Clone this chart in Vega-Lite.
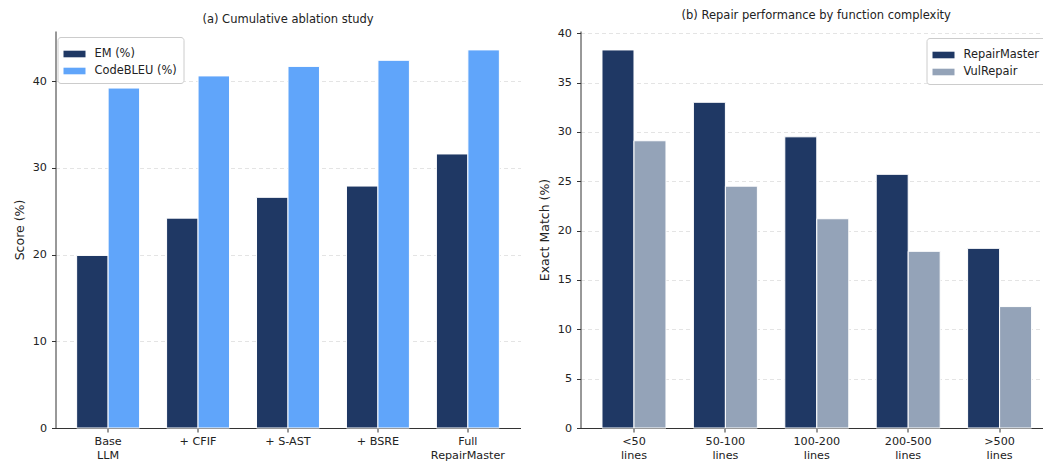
{
  "$schema": "https://vega.github.io/schema/vega-lite/v6.json",
  "background": "white",
  "padding": {"left": 12.5, "top": 9, "right": 0, "bottom": 0},
  "spacing": 17,
  "config": {
    "font": "DejaVu Sans",
    "view": {"stroke": null},
    "axis": {
      "labelFont": "DejaVu Sans", "labelFontSize": 11.2, "labelColor": "#222222",
      "titleFont": "DejaVu Sans", "titleFontSize": 12.5, "titleFontWeight": "normal", "titleColor": "#222222",
      "domainColor": "#333333", "domainWidth": 1, "tickColor": "#333333", "tickSize": 4, "labelPadding": 5,
      "gridColor": "#dddddd", "gridDash": [4, 3], "gridWidth": 0.8
    },
    "title": {"font": "DejaVu Sans", "fontSize": 11.5, "fontWeight": "normal", "color": "#222222", "offset": 6},
    "legend": {
      "labelFont": "DejaVu Sans", "labelFontSize": 11.4, "labelColor": "#222222",
      "symbolType": "M-1,-0.3L1,-0.3L1,0.3L-1,0.3Z", "symbolSize": 484, "symbolStrokeWidth": 0, "symbolOpacity": 1,
      "strokeColor": "#cccccc", "fillColor": "white", "cornerRadius": 3, "padding": 6, "rowPadding": 0, "labelOffset": 9
    }
  },
  "hconcat": [
    {
      "width": 465,
      "height": 397,
      "title": "(a) Cumulative ablation study",
      "data": {"values": [
        {"stage": "Base\nLLM", "metric": "EM (%)", "value": 19.9},
        {"stage": "Base\nLLM", "metric": "CodeBLEU (%)", "value": 39.2},
        {"stage": "+ CFIF", "metric": "EM (%)", "value": 24.2},
        {"stage": "+ CFIF", "metric": "CodeBLEU (%)", "value": 40.6},
        {"stage": "+ S-AST", "metric": "EM (%)", "value": 26.6},
        {"stage": "+ S-AST", "metric": "CodeBLEU (%)", "value": 41.7},
        {"stage": "+ BSRE", "metric": "EM (%)", "value": 27.9},
        {"stage": "+ BSRE", "metric": "CodeBLEU (%)", "value": 42.4},
        {"stage": "Full\nRepairMaster", "metric": "EM (%)", "value": 31.6},
        {"stage": "Full\nRepairMaster", "metric": "CodeBLEU (%)", "value": 43.6}
      ]},
      "mark": {"type": "bar", "stroke": "white", "strokeWidth": 1},
      "encoding": {
        "x": {
          "field": "stage", "type": "nominal",
          "sort": ["Base\nLLM", "+ CFIF", "+ S-AST", "+ BSRE", "Full\nRepairMaster"],
          "scale": {"paddingInner": 0.3, "paddingOuter": 0.235},
          "axis": {"title": null, "labelAngle": 0, "labelExpr": "split(datum.label, '\\n')", "labelLineHeight": 14, "grid": false, "labelPadding": 3}
        },
        "xOffset": {
          "field": "metric", "type": "nominal", "sort": ["EM (%)", "CodeBLEU (%)"],
          "scale": {"paddingInner": 0, "paddingOuter": 0}
        },
        "y": {
          "field": "value", "type": "quantitative",
          "scale": {"domain": [0, 45.78], "nice": false, "zero": true},
          "axis": {"title": "Score (%)", "values": [0, 10, 20, 30, 40], "grid": true, "titlePadding": 6}
        },
        "color": {
          "field": "metric", "type": "nominal",
          "scale": {"domain": ["EM (%)", "CodeBLEU (%)"], "range": ["#1f3864", "#60a5fa"]},
          "legend": {"title": null, "orient": "none", "legendX": 2, "legendY": 6}
        }
      }
    },
    {
      "width": 463.5,
      "height": 397,
      "title": {"text": "(b) Repair performance by function complexity", "dx": 4},
      "data": {"values": [
        {"bin": "<50\nlines", "method": "RepairMaster", "value": 38.3},
        {"bin": "<50\nlines", "method": "VulRepair", "value": 29.1},
        {"bin": "50-100\nlines", "method": "RepairMaster", "value": 33.0},
        {"bin": "50-100\nlines", "method": "VulRepair", "value": 24.5},
        {"bin": "100-200\nlines", "method": "RepairMaster", "value": 29.5},
        {"bin": "100-200\nlines", "method": "VulRepair", "value": 21.2},
        {"bin": "200-500\nlines", "method": "RepairMaster", "value": 25.7},
        {"bin": "200-500\nlines", "method": "VulRepair", "value": 17.9},
        {"bin": ">500\nlines", "method": "RepairMaster", "value": 18.2},
        {"bin": ">500\nlines", "method": "VulRepair", "value": 12.3}
      ]},
      "mark": {"type": "bar", "stroke": "white", "strokeWidth": 1},
      "encoding": {
        "x": {
          "field": "bin", "type": "nominal",
          "sort": ["<50\nlines", "50-100\nlines", "100-200\nlines", "200-500\nlines", ">500\nlines"],
          "scale": {"paddingInner": 0.3, "paddingOuter": 0.1855, "align": 0.634},
          "axis": {"title": null, "labelAngle": 0, "labelExpr": "split(datum.label, '\\n')", "labelLineHeight": 14, "grid": false, "labelPadding": 3}
        },
        "xOffset": {
          "field": "method", "type": "nominal", "sort": ["RepairMaster", "VulRepair"],
          "scale": {"paddingInner": 0, "paddingOuter": 0}
        },
        "y": {
          "field": "value", "type": "quantitative",
          "scale": {"domain": [0, 40.22], "nice": false, "zero": true},
          "axis": {"title": "Exact Match (%)", "values": [0, 5, 10, 15, 20, 25, 30, 35, 40], "grid": true, "titlePadding": 6}
        },
        "color": {
          "field": "method", "type": "nominal",
          "scale": {"domain": ["RepairMaster", "VulRepair"], "range": ["#1f3864", "#94a3b8"]},
          "legend": {"title": null, "orient": "none", "legendX": 346, "legendY": 7}
        }
      }
    }
  ],
  "resolve": {"scale": {"color": "independent", "xOffset": "independent", "x": "independent", "y": "independent"}}
}
